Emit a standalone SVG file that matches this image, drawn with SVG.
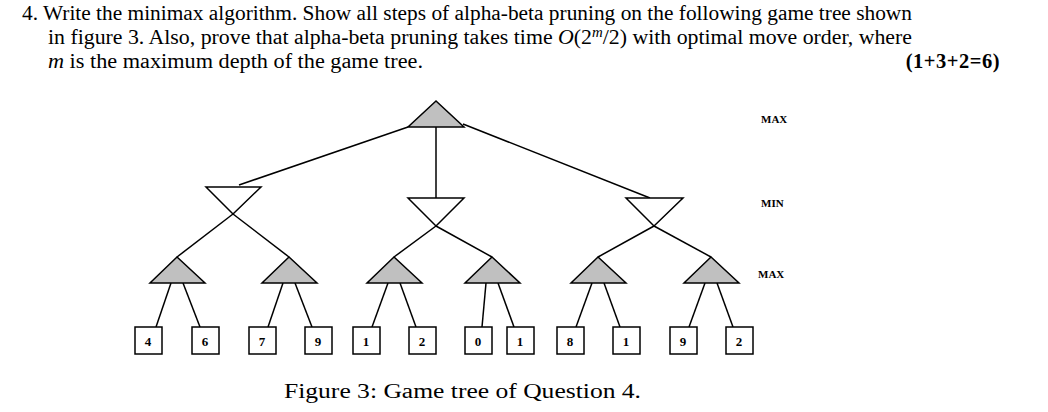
<svg xmlns="http://www.w3.org/2000/svg" width="1048" height="412" viewBox="0 0 1048 412">
<style>
.t{font-family:"Liberation Serif",serif;font-size:20.5px;fill:#000}
.lb{font-family:"Liberation Serif",serif;font-size:11px;font-weight:bold}
.mx{fill:#c0c0c0;stroke:#000;stroke-width:1.5}
.mn{fill:#fff;stroke:#000;stroke-width:1.5}
.lf{fill:#fff;stroke:#000;stroke-width:1.5}
.lv{font-family:"Liberation Serif",serif;font-size:13px;font-weight:bold;text-anchor:middle}
#edges line{stroke:#000;stroke-width:1.5}
</style>
<rect width="1048" height="412" fill="#fff"/>
<text class="t" x="22" y="20" textLength="890" lengthAdjust="spacingAndGlyphs">4. Write the minimax algorithm. Show all steps of alpha-beta pruning on the following game tree shown</text>
<text class="t" x="48" y="44" textLength="864" lengthAdjust="spacingAndGlyphs">in figure 3. Also, prove that alpha-beta pruning takes time <tspan font-style="italic">O</tspan>(2<tspan font-style="italic" font-size="14" dy="-7">m</tspan><tspan dy="7">/2) with optimal move order, where</tspan></text>
<text class="t" x="48" y="68" textLength="375" lengthAdjust="spacingAndGlyphs"><tspan font-style="italic">m</tspan> is the maximum depth of the game tree.</text>
<text class="t" x="1000" y="68" text-anchor="end" font-weight="bold" letter-spacing="0.5">(1+3+2=6)</text>
<g id="edges">
<line x1="408" y1="127" x2="239" y2="185"/><line x1="436" y1="127" x2="436" y2="198"/><line x1="463" y1="124" x2="650" y2="198"/>
<line x1="233" y1="214" x2="177" y2="257"/><line x1="233" y1="214" x2="289" y2="257"/>
<line x1="436" y1="226" x2="394" y2="257"/><line x1="436" y1="226" x2="492" y2="257"/>
<line x1="654" y1="226" x2="598" y2="257"/><line x1="654" y1="226" x2="711" y2="257"/>
<line x1="171" y1="283" x2="156" y2="327"/><line x1="183" y1="283" x2="200" y2="327"/>
<line x1="283" y1="283" x2="268" y2="327"/><line x1="295" y1="283" x2="312" y2="327"/>
<line x1="388" y1="283" x2="372" y2="327"/><line x1="400" y1="283" x2="416" y2="327"/>
<line x1="486" y1="283" x2="482" y2="327"/><line x1="498" y1="283" x2="514" y2="327"/>
<line x1="592" y1="283" x2="576" y2="327"/><line x1="604" y1="283" x2="620" y2="327"/>
<line x1="705" y1="283" x2="689" y2="327"/><line x1="717" y1="283" x2="733" y2="327"/>
</g>
<g id="root"><polygon class="mx" points="436,101 408,127 464,127"/></g>
<g id="min1"><polygon class="mn" points="206,187 261,187 233,214"/></g>
<g id="min2"><polygon class="mn" points="408,198 464,198 436,226"/></g>
<g id="min3"><polygon class="mn" points="626,198 683,198 654,226"/></g>
<g id="max1"><polygon class="mx" points="177,257 150,283 205,283"/></g>
<g id="max2"><polygon class="mx" points="289,257 262,283 317,283"/></g>
<g id="max3"><polygon class="mx" points="394,257 367,283 422,283"/></g>
<g id="max4"><polygon class="mx" points="492,257 465,283 520,283"/></g>
<g id="max5"><polygon class="mx" points="598,257 571,283 626,283"/></g>
<g id="max6"><polygon class="mx" points="711,257 684,283 739,283"/></g>
<g id="l1"><rect class="lf" x="135" y="327" width="27" height="27"/><text class="lv" x="148" y="346">4</text></g>
<g id="l2"><rect class="lf" x="192" y="327" width="27" height="27"/><text class="lv" x="205" y="346">6</text></g>
<g id="l3"><rect class="lf" x="249" y="327" width="27" height="27"/><text class="lv" x="262" y="346">7</text></g>
<g id="l4"><rect class="lf" x="305" y="327" width="27" height="27"/><text class="lv" x="318" y="346">9</text></g>
<g id="l5"><rect class="lf" x="353" y="327" width="27" height="27"/><text class="lv" x="366" y="346">1</text></g>
<g id="l6"><rect class="lf" x="409" y="327" width="27" height="27"/><text class="lv" x="422" y="346">2</text></g>
<g id="l7"><rect class="lf" x="465" y="327" width="27" height="27"/><text class="lv" x="478" y="346">0</text></g>
<g id="l8"><rect class="lf" x="507" y="327" width="27" height="27"/><text class="lv" x="520" y="346">1</text></g>
<g id="l9"><rect class="lf" x="557" y="327" width="27" height="27"/><text class="lv" x="570" y="346">8</text></g>
<g id="l10"><rect class="lf" x="613" y="327" width="27" height="27"/><text class="lv" x="626" y="346">1</text></g>
<g id="l11"><rect class="lf" x="670" y="327" width="27" height="27"/><text class="lv" x="683" y="346">9</text></g>
<g id="l12"><rect class="lf" x="726" y="327" width="27" height="27"/><text class="lv" x="739" y="346">2</text></g>
<text class="lb" x="761" y="123">MAX</text>
<text class="lb" x="761" y="207">MIN</text>
<text class="lb" x="758" y="278">MAX</text>
<text class="t" x="284" y="398" font-size="24" textLength="357" lengthAdjust="spacingAndGlyphs">Figure 3: Game tree of Question 4.</text>
</svg>
